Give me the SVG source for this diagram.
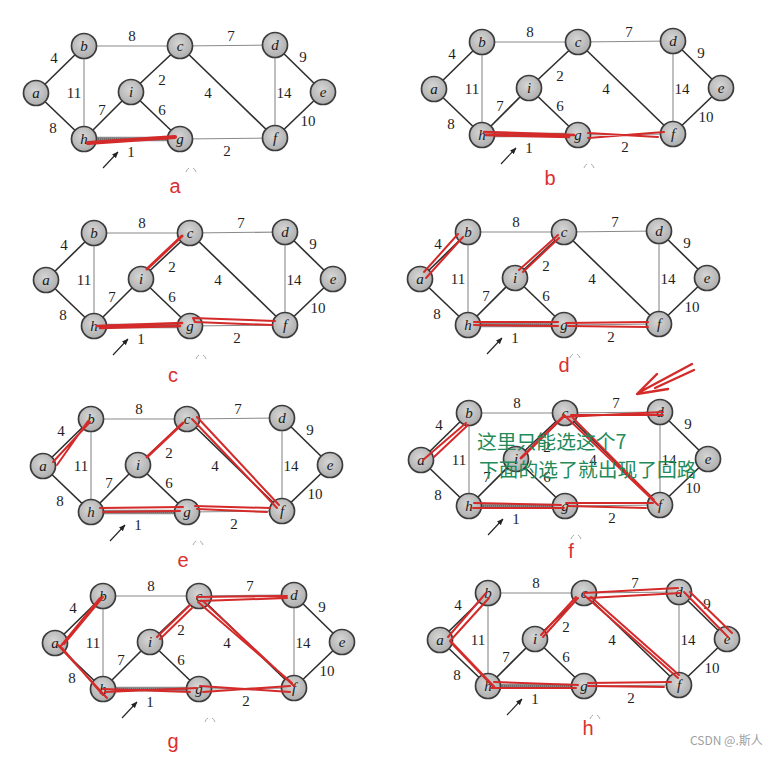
<svg xmlns="http://www.w3.org/2000/svg" width="782" height="757" viewBox="0 0 782 757">
<defs>
<radialGradient id="ng" cx="0.45" cy="0.4" r="0.6">
<stop offset="0" stop-color="#d6d6d6"/>
<stop offset="1" stop-color="#adadad"/>
</radialGradient>
<marker id="ah" viewBox="0 0 10 10" refX="9" refY="5" markerWidth="6" markerHeight="6" orient="auto">
<path d="M0,1 L10,5 L0,9 z" fill="#222"/>
</marker>
<style>
.k{stroke:#2e2e2e;stroke-width:1.6}
.t{stroke:#8a8a8a;stroke-width:1.1}
.s{stroke:#8c8c8c;stroke-width:4.5}
.s2{stroke:#4a4a4a;stroke-width:1.2;stroke-dasharray:1 1}
.n circle{fill:url(#ng);stroke:#3c3c3c;stroke-width:1.7}
.n text{font-family:"Liberation Serif",serif;font-style:italic;font-size:15px;text-anchor:middle;fill:#1a1a1a}
.w text{font-family:"Liberation Serif",serif;font-size:15px;text-anchor:middle;fill:#1e1e1e}
.ar{stroke:#222;stroke-width:1.1;fill:none}
.fr{stroke:#aaa;stroke-width:1;fill:none}
.red{stroke:#d42a2a;stroke-width:2;fill:none;stroke-linecap:round;stroke-linejoin:round}
.cap{font-family:"Liberation Sans",sans-serif;font-size:20px;fill:#d93030;text-anchor:middle}
.note{font-family:"Noto Sans CJK SC",sans-serif;font-size:19.8px;fill:#238b5a}
.wm{font-family:"Noto Sans CJK SC",sans-serif;font-size:12px;fill:#a0a0a0}
</style>
</defs>
<rect width="782" height="757" fill="#fff"/>

<!-- Panel a -->
<g id="panel-a" transform="translate(36,93)">
<g id="a-edges">
<line class="k" x1="0" y1="0" x2="48" y2="-47"/><line class="k" x1="0" y1="0" x2="48" y2="46"/>
<line class="t" x1="48" y1="-47" x2="144" y2="-47"/><line class="t" x1="48" y1="-47" x2="48" y2="46"/>
<line class="t" x1="144" y1="-47" x2="239" y2="-48"/><line class="k" x1="144" y1="-47" x2="95" y2="-1"/>
<line class="k" x1="144" y1="-47" x2="239" y2="45"/><line class="k" x1="239" y1="-48" x2="287" y2="-1"/>
<line class="t" x1="239" y1="-48" x2="239" y2="45"/><line class="k" x1="287" y1="-1" x2="239" y2="45"/>
<line class="k" x1="48" y1="46" x2="95" y2="-1"/><line class="k" x1="95" y1="-1" x2="144" y2="46"/>
<line class="s" x1="48" y1="46" x2="144" y2="46"/><line class="s2" x1="48" y1="46" x2="144" y2="46"/>
<line class="t" x1="144" y1="46" x2="239" y2="45"/>
<line class="ar" x1="67" y1="75" x2="82" y2="59" marker-end="url(#ah)"/>
<path class="fr" d="M150,79 q1,-3 3,-4 M157,75 q2,1 3,4"/>
</g>
<g class="w"><text x="18" y="-30">4</text><text x="96" y="-52">8</text><text x="195" y="-52">7</text><text x="267" y="-31">9</text><text x="38" y="5">11</text><text x="126" y="-8">2</text><text x="172" y="5">4</text><text x="248" y="5">14</text><text x="66" y="22">7</text><text x="126" y="22">6</text><text x="17" y="40">8</text><text x="272" y="33">10</text><text x="95" y="64">1</text><text x="191" y="63">2</text></g>
<g id="a-a" class="n"><circle cx="0" cy="0" r="12.5"/><text x="0" y="5">a</text></g>
<g id="a-b" class="n"><circle cx="48" cy="-47" r="12.5"/><text x="48" y="-42">b</text></g>
<g id="a-c" class="n"><circle cx="144" cy="-47" r="12.5"/><text x="144" y="-42">c</text></g>
<g id="a-d" class="n"><circle cx="239" cy="-48" r="12.5"/><text x="239" y="-43">d</text></g>
<g id="a-e" class="n"><circle cx="287" cy="-1" r="12.5"/><text x="287" y="4">e</text></g>
<g id="a-i" class="n"><circle cx="95" cy="-1" r="12.5"/><text x="95" y="4">i</text></g>
<g id="a-h" class="n"><circle cx="48" cy="46" r="12.5"/><text x="48" y="51">h</text></g>
<g id="a-g" class="n"><circle cx="144" cy="46" r="12.5"/><text x="144" y="51">g</text></g>
<g id="a-f" class="n"><circle cx="239" cy="45" r="12.5"/><text x="239" y="50">f</text></g>
</g>
<g id="a-red" class="red"><path d="M88,143 L175,137" stroke-width="4.2"/></g>
<text class="cap" x="175" y="193">a</text>

<!-- Panel b -->
<g id="panel-b" transform="translate(434,89)">
<g id="b-edges">
<line class="k" x1="0" y1="0" x2="48" y2="-47"/><line class="k" x1="0" y1="0" x2="48" y2="46"/>
<line class="t" x1="48" y1="-47" x2="144" y2="-47"/><line class="t" x1="48" y1="-47" x2="48" y2="46"/>
<line class="t" x1="144" y1="-47" x2="239" y2="-48"/><line class="k" x1="144" y1="-47" x2="95" y2="-1"/>
<line class="k" x1="144" y1="-47" x2="239" y2="45"/><line class="k" x1="239" y1="-48" x2="287" y2="-1"/>
<line class="t" x1="239" y1="-48" x2="239" y2="45"/><line class="k" x1="287" y1="-1" x2="239" y2="45"/>
<line class="k" x1="48" y1="46" x2="95" y2="-1"/><line class="k" x1="95" y1="-1" x2="144" y2="46"/>
<line class="s" x1="48" y1="46" x2="144" y2="46"/><line class="s2" x1="48" y1="46" x2="144" y2="46"/>
<line class="t" x1="144" y1="46" x2="239" y2="45"/>
<line class="ar" x1="67" y1="75" x2="82" y2="59" marker-end="url(#ah)"/>
<path class="fr" d="M150,79 q1,-3 3,-4 M157,75 q2,1 3,4"/>
</g>
<g class="w"><text x="18" y="-30">4</text><text x="96" y="-52">8</text><text x="195" y="-52">7</text><text x="267" y="-31">9</text><text x="38" y="5">11</text><text x="126" y="-8">2</text><text x="172" y="5">4</text><text x="248" y="5">14</text><text x="66" y="22">7</text><text x="126" y="22">6</text><text x="17" y="40">8</text><text x="272" y="33">10</text><text x="95" y="64">1</text><text x="191" y="63">2</text></g>
<g id="b-a" class="n"><circle cx="0" cy="0" r="12.5"/><text x="0" y="5">a</text></g>
<g id="b-b" class="n"><circle cx="48" cy="-47" r="12.5"/><text x="48" y="-42">b</text></g>
<g id="b-c" class="n"><circle cx="144" cy="-47" r="12.5"/><text x="144" y="-42">c</text></g>
<g id="b-d" class="n"><circle cx="239" cy="-48" r="12.5"/><text x="239" y="-43">d</text></g>
<g id="b-e" class="n"><circle cx="287" cy="-1" r="12.5"/><text x="287" y="4">e</text></g>
<g id="b-i" class="n"><circle cx="95" cy="-1" r="12.5"/><text x="95" y="4">i</text></g>
<g id="b-h" class="n"><circle cx="48" cy="46" r="12.5"/><text x="48" y="51">h</text></g>
<g id="b-g" class="n"><circle cx="144" cy="46" r="12.5"/><text x="144" y="51">g</text></g>
<g id="b-f" class="n"><circle cx="239" cy="45" r="12.5"/><text x="239" y="50">f</text></g>
</g>
<g id="b-red" class="red"><path d="M484,132 L574,135 M486,135 L569,137" stroke-width="2.6"/><path d="M588,133 L658,137 M588,138 L664,132"/></g>
<text class="cap" x="550" y="185">b</text>

<!-- Panel c -->
<g id="panel-c" transform="translate(46,280)">
<g id="c-edges">
<line class="k" x1="0" y1="0" x2="48" y2="-47"/><line class="k" x1="0" y1="0" x2="48" y2="46"/>
<line class="t" x1="48" y1="-47" x2="144" y2="-47"/><line class="t" x1="48" y1="-47" x2="48" y2="46"/>
<line class="t" x1="144" y1="-47" x2="239" y2="-48"/><line class="k" x1="144" y1="-47" x2="95" y2="-1"/>
<line class="k" x1="144" y1="-47" x2="239" y2="45"/><line class="k" x1="239" y1="-48" x2="287" y2="-1"/>
<line class="t" x1="239" y1="-48" x2="239" y2="45"/><line class="k" x1="287" y1="-1" x2="239" y2="45"/>
<line class="k" x1="48" y1="46" x2="95" y2="-1"/><line class="k" x1="95" y1="-1" x2="144" y2="46"/>
<line class="s" x1="48" y1="46" x2="144" y2="46"/><line class="s2" x1="48" y1="46" x2="144" y2="46"/>
<line class="t" x1="144" y1="46" x2="239" y2="45"/>
<line class="ar" x1="67" y1="75" x2="82" y2="59" marker-end="url(#ah)"/>
<path class="fr" d="M150,79 q1,-3 3,-4 M157,75 q2,1 3,4"/>
</g>
<g class="w"><text x="18" y="-30">4</text><text x="96" y="-52">8</text><text x="195" y="-52">7</text><text x="267" y="-31">9</text><text x="38" y="5">11</text><text x="126" y="-8">2</text><text x="172" y="5">4</text><text x="248" y="5">14</text><text x="66" y="22">7</text><text x="126" y="22">6</text><text x="17" y="40">8</text><text x="272" y="33">10</text><text x="95" y="64">1</text><text x="191" y="63">2</text></g>
<g id="c-a" class="n"><circle cx="0" cy="0" r="12.5"/><text x="0" y="5">a</text></g>
<g id="c-b" class="n"><circle cx="48" cy="-47" r="12.5"/><text x="48" y="-42">b</text></g>
<g id="c-c" class="n"><circle cx="144" cy="-47" r="12.5"/><text x="144" y="-42">c</text></g>
<g id="c-d" class="n"><circle cx="239" cy="-48" r="12.5"/><text x="239" y="-43">d</text></g>
<g id="c-e" class="n"><circle cx="287" cy="-1" r="12.5"/><text x="287" y="4">e</text></g>
<g id="c-i" class="n"><circle cx="95" cy="-1" r="12.5"/><text x="95" y="4">i</text></g>
<g id="c-h" class="n"><circle cx="48" cy="46" r="12.5"/><text x="48" y="51">h</text></g>
<g id="c-g" class="n"><circle cx="144" cy="46" r="12.5"/><text x="144" y="51">g</text></g>
<g id="c-f" class="n"><circle cx="239" cy="45" r="12.5"/><text x="239" y="50">f</text></g>
</g>
<g id="c-red" class="red"><path d="M147,269 L182,236" stroke-width="3"/><path d="M97,326 L182,323 M100,328 L180,326" stroke-width="2.6"/><path d="M275,321 L193,318 L195,322 L272,325"/></g>
<text class="cap" x="173" y="382">c</text>

<!-- Panel d -->
<g id="panel-d" transform="translate(420,279)">
<g id="d-edges">
<line class="k" x1="0" y1="0" x2="48" y2="-47"/><line class="k" x1="0" y1="0" x2="48" y2="46"/>
<line class="t" x1="48" y1="-47" x2="144" y2="-47"/><line class="t" x1="48" y1="-47" x2="48" y2="46"/>
<line class="t" x1="144" y1="-47" x2="239" y2="-48"/><line class="k" x1="144" y1="-47" x2="95" y2="-1"/>
<line class="k" x1="144" y1="-47" x2="239" y2="45"/><line class="k" x1="239" y1="-48" x2="287" y2="-1"/>
<line class="t" x1="239" y1="-48" x2="239" y2="45"/><line class="k" x1="287" y1="-1" x2="239" y2="45"/>
<line class="k" x1="48" y1="46" x2="95" y2="-1"/><line class="k" x1="95" y1="-1" x2="144" y2="46"/>
<line class="s" x1="48" y1="46" x2="144" y2="46"/><line class="s2" x1="48" y1="46" x2="144" y2="46"/>
<line class="t" x1="144" y1="46" x2="239" y2="45"/>
<line class="ar" x1="67" y1="75" x2="82" y2="59" marker-end="url(#ah)"/>
<path class="fr" d="M150,79 q1,-3 3,-4 M157,75 q2,1 3,4"/>
</g>
<g class="w"><text x="18" y="-30">4</text><text x="96" y="-52">8</text><text x="195" y="-52">7</text><text x="267" y="-31">9</text><text x="38" y="5">11</text><text x="126" y="-8">2</text><text x="172" y="5">4</text><text x="248" y="5">14</text><text x="66" y="22">7</text><text x="126" y="22">6</text><text x="17" y="40">8</text><text x="272" y="33">10</text><text x="95" y="64">1</text><text x="191" y="63">2</text></g>
<g id="d-a" class="n"><circle cx="0" cy="0" r="12.5"/><text x="0" y="5">a</text></g>
<g id="d-b" class="n"><circle cx="48" cy="-47" r="12.5"/><text x="48" y="-42">b</text></g>
<g id="d-c" class="n"><circle cx="144" cy="-47" r="12.5"/><text x="144" y="-42">c</text></g>
<g id="d-d" class="n"><circle cx="239" cy="-48" r="12.5"/><text x="239" y="-43">d</text></g>
<g id="d-e" class="n"><circle cx="287" cy="-1" r="12.5"/><text x="287" y="4">e</text></g>
<g id="d-i" class="n"><circle cx="95" cy="-1" r="12.5"/><text x="95" y="4">i</text></g>
<g id="d-h" class="n"><circle cx="48" cy="46" r="12.5"/><text x="48" y="51">h</text></g>
<g id="d-g" class="n"><circle cx="144" cy="46" r="12.5"/><text x="144" y="51">g</text></g>
<g id="d-f" class="n"><circle cx="239" cy="45" r="12.5"/><text x="239" y="50">f</text></g>
</g>
<g id="d-red" class="red"><path d="M424,272 L458,234 M426,278 L463,237"/><path d="M519,270 L558,235 M523,272 L559,238"/><path d="M474,322 L558,322 M474,325 L558,326"/><path d="M566,323 L648,322 M568,326 L648,327"/></g>
<text class="cap" x="564" y="372">d</text>

<!-- Panel e -->
<g id="panel-e" transform="translate(43,466)">
<g id="e-edges">
<line class="k" x1="0" y1="0" x2="48" y2="-47"/><line class="k" x1="0" y1="0" x2="48" y2="46"/>
<line class="t" x1="48" y1="-47" x2="144" y2="-47"/><line class="t" x1="48" y1="-47" x2="48" y2="46"/>
<line class="t" x1="144" y1="-47" x2="239" y2="-48"/><line class="k" x1="144" y1="-47" x2="95" y2="-1"/>
<line class="k" x1="144" y1="-47" x2="239" y2="45"/><line class="k" x1="239" y1="-48" x2="287" y2="-1"/>
<line class="t" x1="239" y1="-48" x2="239" y2="45"/><line class="k" x1="287" y1="-1" x2="239" y2="45"/>
<line class="k" x1="48" y1="46" x2="95" y2="-1"/><line class="k" x1="95" y1="-1" x2="144" y2="46"/>
<line class="s" x1="48" y1="46" x2="144" y2="46"/><line class="s2" x1="48" y1="46" x2="144" y2="46"/>
<line class="t" x1="144" y1="46" x2="239" y2="45"/>
<line class="ar" x1="67" y1="75" x2="82" y2="59" marker-end="url(#ah)"/>
<path class="fr" d="M150,79 q1,-3 3,-4 M157,75 q2,1 3,4"/>
</g>
<g class="w"><text x="18" y="-30">4</text><text x="96" y="-52">8</text><text x="195" y="-52">7</text><text x="267" y="-31">9</text><text x="38" y="5">11</text><text x="126" y="-8">2</text><text x="172" y="5">4</text><text x="248" y="5">14</text><text x="66" y="22">7</text><text x="126" y="22">6</text><text x="17" y="40">8</text><text x="272" y="33">10</text><text x="95" y="64">1</text><text x="191" y="63">2</text></g>
<g id="e-a" class="n"><circle cx="0" cy="0" r="12.5"/><text x="0" y="5">a</text></g>
<g id="e-b" class="n"><circle cx="48" cy="-47" r="12.5"/><text x="48" y="-42">b</text></g>
<g id="e-c" class="n"><circle cx="144" cy="-47" r="12.5"/><text x="144" y="-42">c</text></g>
<g id="e-d" class="n"><circle cx="239" cy="-48" r="12.5"/><text x="239" y="-43">d</text></g>
<g id="e-e" class="n"><circle cx="287" cy="-1" r="12.5"/><text x="287" y="4">e</text></g>
<g id="e-i" class="n"><circle cx="95" cy="-1" r="12.5"/><text x="95" y="4">i</text></g>
<g id="e-h" class="n"><circle cx="48" cy="46" r="12.5"/><text x="48" y="51">h</text></g>
<g id="e-g" class="n"><circle cx="144" cy="46" r="12.5"/><text x="144" y="51">g</text></g>
<g id="e-f" class="n"><circle cx="239" cy="45" r="12.5"/><text x="239" y="50">f</text></g>
</g>
<g id="e-red" class="red"><path d="M53,462 L90,422 M57,465 L88,421"/><path d="M147,457 L183,423" stroke-width="2.8"/><path d="M192,419 L277,508 M197,417 L279,505"/><path d="M100,508 L183,507 M103,512 L180,511"/><path d="M195,506 L270,508 M197,509 L267,512"/></g>
<text class="cap" x="183" y="567">e</text>

<!-- Panel f -->
<g id="panel-f" transform="translate(421,460)">
<g id="f-edges">
<line class="k" x1="0" y1="0" x2="48" y2="-47"/><line class="k" x1="0" y1="0" x2="48" y2="46"/>
<line class="t" x1="48" y1="-47" x2="144" y2="-47"/><line class="t" x1="48" y1="-47" x2="48" y2="46"/>
<line class="t" x1="144" y1="-47" x2="239" y2="-48"/><line class="k" x1="144" y1="-47" x2="95" y2="-1"/>
<line class="k" x1="144" y1="-47" x2="239" y2="45"/><line class="k" x1="239" y1="-48" x2="287" y2="-1"/>
<line class="t" x1="239" y1="-48" x2="239" y2="45"/><line class="k" x1="287" y1="-1" x2="239" y2="45"/>
<line class="k" x1="48" y1="46" x2="95" y2="-1"/><line class="k" x1="95" y1="-1" x2="144" y2="46"/>
<line class="s" x1="48" y1="46" x2="144" y2="46"/><line class="s2" x1="48" y1="46" x2="144" y2="46"/>
<line class="t" x1="144" y1="46" x2="239" y2="45"/>
<line class="ar" x1="67" y1="75" x2="82" y2="59" marker-end="url(#ah)"/>
<path class="fr" d="M150,79 q1,-3 3,-4 M157,75 q2,1 3,4"/>
</g>
<g class="w"><text x="18" y="-30">4</text><text x="96" y="-52">8</text><text x="195" y="-52">7</text><text x="267" y="-31">9</text><text x="38" y="5">11</text><text x="126" y="-8">2</text><text x="172" y="5">4</text><text x="248" y="5">14</text><text x="66" y="22">7</text><text x="126" y="22">6</text><text x="17" y="40">8</text><text x="272" y="33">10</text><text x="95" y="64">1</text><text x="191" y="63">2</text></g>
<g id="f-a" class="n"><circle cx="0" cy="0" r="12.5"/><text x="0" y="5">a</text></g>
<g id="f-b" class="n"><circle cx="48" cy="-47" r="12.5"/><text x="48" y="-42">b</text></g>
<g id="f-c" class="n"><circle cx="144" cy="-47" r="12.5"/><text x="144" y="-42">c</text></g>
<g id="f-d" class="n"><circle cx="239" cy="-48" r="12.5"/><text x="239" y="-43">d</text></g>
<g id="f-e" class="n"><circle cx="287" cy="-1" r="12.5"/><text x="287" y="4">e</text></g>
<g id="f-i" class="n"><circle cx="95" cy="-1" r="12.5"/><text x="95" y="4">i</text></g>
<g id="f-h" class="n"><circle cx="48" cy="46" r="12.5"/><text x="48" y="51">h</text></g>
<g id="f-g" class="n"><circle cx="144" cy="46" r="12.5"/><text x="144" y="51">g</text></g>
<g id="f-f" class="n"><circle cx="239" cy="45" r="12.5"/><text x="239" y="50">f</text></g>
</g>
<g id="f-red" class="red"><path d="M423,460 L466,423 M434,457 L468,425"/><path d="M521,458 L563,417" stroke-width="2.8"/><path d="M563,417 L663,412 M571,415 L663,415"/><path d="M564,415 L658,505 M573,418 L654,500"/><path d="M474,503 L561,505 M473,508 L564,508"/><path d="M566,503 L653,503 M568,506 L646,508"/><path d="M692,364 L638,393 M694,370 L655,388 M657,374 L637,394 L668,389" stroke-width="2.4"/></g>
<g id="f-note"><text class="note" x="477" y="449">这里只能选这个7</text><text class="note" x="479" y="477">下面的选了就出现了回路</text></g>
<text class="cap" x="571" y="558">f</text>

<!-- Panel g -->
<g id="panel-g" transform="translate(55,643)">
<g id="g-edges">
<line class="k" x1="0" y1="0" x2="48" y2="-47"/><line class="k" x1="0" y1="0" x2="48" y2="46"/>
<line class="t" x1="48" y1="-47" x2="144" y2="-47"/><line class="t" x1="48" y1="-47" x2="48" y2="46"/>
<line class="t" x1="144" y1="-47" x2="239" y2="-48"/><line class="k" x1="144" y1="-47" x2="95" y2="-1"/>
<line class="k" x1="144" y1="-47" x2="239" y2="45"/><line class="k" x1="239" y1="-48" x2="287" y2="-1"/>
<line class="t" x1="239" y1="-48" x2="239" y2="45"/><line class="k" x1="287" y1="-1" x2="239" y2="45"/>
<line class="k" x1="48" y1="46" x2="95" y2="-1"/><line class="k" x1="95" y1="-1" x2="144" y2="46"/>
<line class="s" x1="48" y1="46" x2="144" y2="46"/><line class="s2" x1="48" y1="46" x2="144" y2="46"/>
<line class="t" x1="144" y1="46" x2="239" y2="45"/>
<line class="ar" x1="67" y1="75" x2="82" y2="59" marker-end="url(#ah)"/>
<path class="fr" d="M150,79 q1,-3 3,-4 M157,75 q2,1 3,4"/>
</g>
<g class="w"><text x="18" y="-30">4</text><text x="96" y="-52">8</text><text x="195" y="-52">7</text><text x="267" y="-31">9</text><text x="38" y="5">11</text><text x="126" y="-8">2</text><text x="172" y="5">4</text><text x="248" y="5">14</text><text x="66" y="22">7</text><text x="126" y="22">6</text><text x="17" y="40">8</text><text x="272" y="33">10</text><text x="95" y="64">1</text><text x="191" y="63">2</text></g>
<g id="g-a" class="n"><circle cx="0" cy="0" r="12.5"/><text x="0" y="5">a</text></g>
<g id="g-b" class="n"><circle cx="48" cy="-47" r="12.5"/><text x="48" y="-42">b</text></g>
<g id="g-c" class="n"><circle cx="144" cy="-47" r="12.5"/><text x="144" y="-42">c</text></g>
<g id="g-d" class="n"><circle cx="239" cy="-48" r="12.5"/><text x="239" y="-43">d</text></g>
<g id="g-e" class="n"><circle cx="287" cy="-1" r="12.5"/><text x="287" y="4">e</text></g>
<g id="g-i" class="n"><circle cx="95" cy="-1" r="12.5"/><text x="95" y="4">i</text></g>
<g id="g-h" class="n"><circle cx="48" cy="46" r="12.5"/><text x="48" y="51">h</text></g>
<g id="g-g" class="n"><circle cx="144" cy="46" r="12.5"/><text x="144" y="51">g</text></g>
<g id="g-f" class="n"><circle cx="239" cy="45" r="12.5"/><text x="239" y="50">f</text></g>
</g>
<g id="g-red" class="red"><path d="M60,647 L100,598 M64,644 L103,597"/><path d="M58,645 L107,698 M62,648 L103,695"/><path d="M105,692 L197,688 M103,689 L190,692"/><path d="M200,686 L290,692 M203,692 L290,686"/><path d="M198,602 L292,683 M203,601 L294,686"/><path d="M197,597 L287,596 M200,601 L287,598"/><path d="M157,637 L190,605 M160,639 L192,608"/></g>
<text class="cap" x="173" y="748">g</text>

<!-- Panel h -->
<g id="panel-h" transform="translate(440,640)">
<g id="h-edges">
<line class="k" x1="0" y1="0" x2="48" y2="-47"/><line class="k" x1="0" y1="0" x2="48" y2="46"/>
<line class="t" x1="48" y1="-47" x2="144" y2="-47"/><line class="t" x1="48" y1="-47" x2="48" y2="46"/>
<line class="t" x1="144" y1="-47" x2="239" y2="-48"/><line class="k" x1="144" y1="-47" x2="95" y2="-1"/>
<line class="k" x1="144" y1="-47" x2="239" y2="45"/><line class="k" x1="239" y1="-48" x2="287" y2="-1"/>
<line class="t" x1="239" y1="-48" x2="239" y2="45"/><line class="k" x1="287" y1="-1" x2="239" y2="45"/>
<line class="k" x1="48" y1="46" x2="95" y2="-1"/><line class="k" x1="95" y1="-1" x2="144" y2="46"/>
<line class="s" x1="48" y1="46" x2="144" y2="46"/><line class="s2" x1="48" y1="46" x2="144" y2="46"/>
<line class="t" x1="144" y1="46" x2="239" y2="45"/>
<line class="ar" x1="67" y1="75" x2="82" y2="59" marker-end="url(#ah)"/>
<path class="fr" d="M150,79 q1,-3 3,-4 M157,75 q2,1 3,4"/>
</g>
<g class="w"><text x="18" y="-30">4</text><text x="96" y="-52">8</text><text x="195" y="-52">7</text><text x="267" y="-31">9</text><text x="38" y="5">11</text><text x="126" y="-8">2</text><text x="172" y="5">4</text><text x="248" y="5">14</text><text x="66" y="22">7</text><text x="126" y="22">6</text><text x="17" y="40">8</text><text x="272" y="33">10</text><text x="95" y="64">1</text><text x="191" y="63">2</text></g>
<g id="h-a" class="n"><circle cx="0" cy="0" r="12.5"/><text x="0" y="5">a</text></g>
<g id="h-b" class="n"><circle cx="48" cy="-47" r="12.5"/><text x="48" y="-42">b</text></g>
<g id="h-c" class="n"><circle cx="144" cy="-47" r="12.5"/><text x="144" y="-42">c</text></g>
<g id="h-d" class="n"><circle cx="239" cy="-48" r="12.5"/><text x="239" y="-43">d</text></g>
<g id="h-e" class="n"><circle cx="287" cy="-1" r="12.5"/><text x="287" y="4">e</text></g>
<g id="h-i" class="n"><circle cx="95" cy="-1" r="12.5"/><text x="95" y="4">i</text></g>
<g id="h-h" class="n"><circle cx="48" cy="46" r="12.5"/><text x="48" y="51">h</text></g>
<g id="h-g" class="n"><circle cx="144" cy="46" r="12.5"/><text x="144" y="51">g</text></g>
<g id="h-f" class="n"><circle cx="239" cy="45" r="12.5"/><text x="239" y="50">f</text></g>
</g>
<g id="h-red" class="red"><path d="M448,637 L486,593 M450,641 L489,598"/><path d="M451,642 L494,687" stroke-width="2.8"/><path d="M494,682 L578,685 M491,688 L576,688"/><path d="M588,683 L671,682 M588,686 L664,687"/><path d="M584,595 L678,678 M591,597 L679,675"/><path d="M584,593 L678,588 M588,598 L681,593"/><path d="M541,635 L576,597 M543,637 L578,598"/><path d="M684,592 L728,637 M690,592 L732,633"/></g>
<text class="cap" x="588" y="735">h</text>

<text class="wm" x="690" y="745">CSDN @.斯人</text>
</svg>
